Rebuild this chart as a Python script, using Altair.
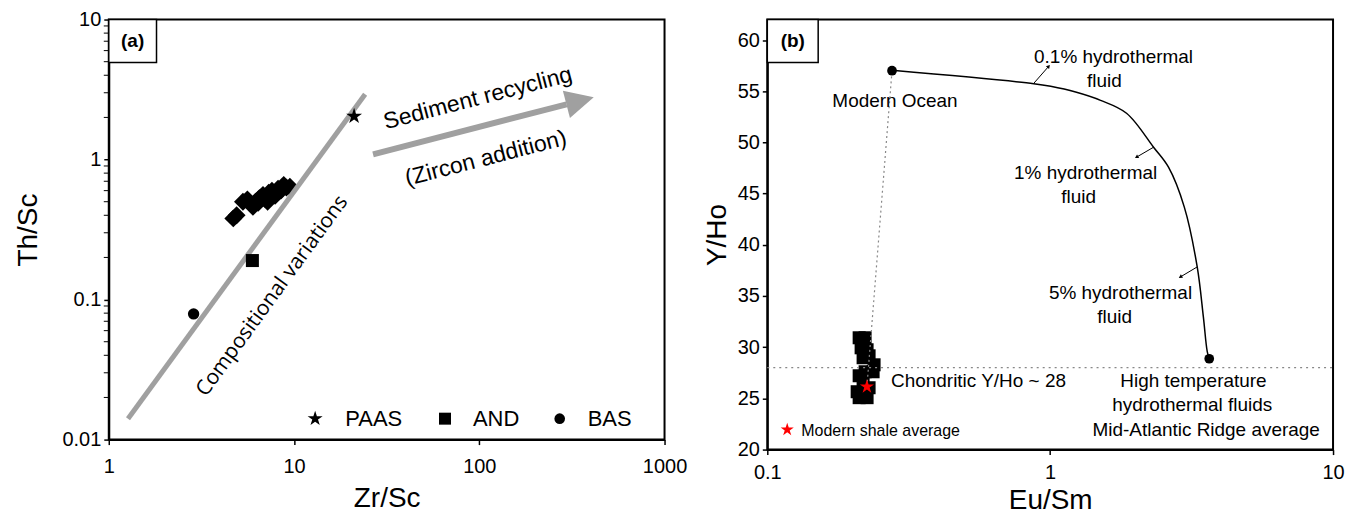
import altair as alt
import pandas as pd

# ---------------- Panel (a) data ----------------
paas_x = [21.1]
paas_y = [2.04]
and_x = [5.96]
and_y = [0.19]
bas_x = [2.87]
bas_y = [0.079]
sample_a_x = [4.7, 4.9, 5.3, 5.6, 5.9, 6.2, 6.5, 6.8, 7.0, 7.3, 7.6, 7.9, 8.2, 8.5, 8.8, 9.1, 9.5, 6.0, 7.2, 6.4]
sample_a_y = [0.38, 0.40, 0.50, 0.52, 0.48, 0.50, 0.53, 0.56, 0.52, 0.58, 0.60, 0.55, 0.62, 0.60, 0.66, 0.63, 0.64, 0.46, 0.50, 0.49]
comp_x = [1.27, 24.2]
comp_y = [0.0141, 2.93]
arrow_x = [26.7, 296]
arrow_y = [1.09, 2.48]
arrowhead_x = [350]
arrowhead_y = [2.63]
y_minor_a = [0.02, 0.03, 0.04, 0.05, 0.06, 0.07, 0.08, 0.09,
             0.2, 0.3, 0.4, 0.5, 0.6, 0.7, 0.8, 0.9,
             2, 3, 4, 5, 6, 7, 8, 9]
y_ticks_a = [0.01, 0.1, 1, 10]
x_ticks_a = [1, 10, 100, 1000]
legend_a_labels = ["PAAS", "AND", "BAS"]
legend_a_sym_x = [13.0, 65.3, 271.7]
legend_a_txt_x = [18.9, 92.4, 384.5]
legend_a_y = 0.01411

# ---------------- Panel (b) data ----------------
sample_b_x = [0.2112, 0.2217, 0.2146, 0.2253, 0.2181, 0.2290, 0.2385, 0.2366, 0.2217, 0.2112,
              0.2181, 0.2290, 0.2078, 0.2217, 0.2112, 0.2253]
sample_b_y = [30.92, 30.92, 29.94, 29.75, 28.97, 29.16, 28.28, 27.60, 27.60, 27.21,
              26.53, 26.04, 25.65, 25.46, 25.07, 25.07]
ocean_x, ocean_y = [0.276], [57.0]
mar_x, mar_y = [3.65], [28.87]
shale_x, shale_y = [0.225], [26.14]
curve_x = [0.276, 0.875, 1.004, 1.23, 1.507, 1.862, 2.32, 2.62, 2.98, 3.31, 3.48, 3.59, 3.65]
curve_y = [57.04, 55.74, 55.48, 54.92, 54.11, 52.85, 49.53, 47.58, 43.68, 37.84, 32.96, 29.6, 28.87]
chondritic = 28
y_ticks_b = [20, 25, 30, 35, 40, 45, 50, 55, 60]
x_ticks_b = [0.1, 1, 10]

FONT = "Liberation Sans"

STAR = ("M0,-1 L0.2245,-0.309 L0.951,-0.309 L0.363,0.118 L0.588,0.809 L0,0.382 "
        "L-0.588,0.809 L-0.363,0.118 L-0.951,-0.309 L-0.2245,-0.309 Z")
HEAD = "M-1,-1 L1,0 L-1,1 Z"
legend_a_shapes = [STAR, "square", "circle"]
legend_a_sizes = [250, 144, 113]

W_A, H_A = 557, 421
W_B, H_B = 567, 431


def df(xs, ys, **extra):
    d = {"x": xs, "y": ys}
    d.update(extra)
    return pd.DataFrame(d)


def axis_common(values, title, lp, tp):
    return alt.Axis(values=values, title=title, grid=False, domainColor="black", domainWidth=2,
                    tickColor="black", tickWidth=1.5, tickSize=5, labelColor="black",
                    labelFont=FONT, labelFontSize=20, titleFont=FONT, titleFontSize=28,
                    titleFontWeight="normal", titleColor="black", format="~g",
                    labelFlush=False, labelPadding=lp, titlePadding=tp)


xa = alt.X("x:Q", scale=alt.Scale(type="log", domain=[1, 1000]),
           axis=axis_common(x_ticks_a, "Zr/Sc", 12, 8))
ya = alt.Y("y:Q", scale=alt.Scale(type="log", domain=[0.01, 10]),
           axis=axis_common(y_ticks_a, "Th/Sc", 3, 20))


def base_a(data):
    return alt.Chart(data).encode(x=xa, y=ya)


def box(xe, ye, x0, x1, y0, y1):
    d = pd.DataFrame({"x": [x0], "x2": [x1], "y": [y0], "y2": [y1]})
    return alt.Chart(d).mark_rect(fill="white", stroke="black", strokeWidth=1.5).encode(
        x=xe, x2="x2:Q", y=ye, y2="y2:Q")


def pt(chart, shape, size, color="black", **kw):
    return chart.mark_point(shape=shape, filled=True, size=size, color=color, opacity=1, **kw)


grey = "#a0a0a0"
a_layers = [
    alt.Chart(pd.DataFrame({"y": y_minor_a})).mark_rule(color="black", strokeWidth=1).encode(
        y=ya, x=alt.value(-5), x2=alt.value(0)),
    pt(base_a(df(sample_a_x, sample_a_y)), "diamond", 320),
    base_a(df(comp_x, comp_y)).mark_line(color=grey, strokeWidth=5),
    base_a(df(arrow_x, arrow_y)).mark_line(color=grey, strokeWidth=6),
    pt(base_a(df(arrowhead_x, arrowhead_y)), HEAD, 800, color=grey, angle=345.5),
    pt(base_a(df(and_x, and_y)), "square", 170),
    pt(base_a(df(bas_x, bas_y)), "circle", 130),
    pt(base_a(df(paas_x, paas_y)), STAR, 280),
    base_a(df([98.3], [2.74], t=["Sediment recycling"])).mark_text(
        font=FONT, fontSize=23, angle=345.5, color="black").encode(text="t:N"),
    base_a(df([108.5], [1.02], t=["(Zircon addition)"])).mark_text(
        font=FONT, fontSize=23, angle=345.5, color="black").encode(text="t:N"),
    base_a(df([7.64], [0.106], t=["Compositional variations"])).mark_text(
        font="Open Sans", fontSize=21, angle=306, color="black").encode(text="t:N"),
]
for lab, shp, sz, sx, tx in zip(legend_a_labels, legend_a_shapes, legend_a_sizes,
                                legend_a_sym_x, legend_a_txt_x):
    a_layers.append(pt(base_a(df([sx], [legend_a_y])), shp, sz))
    a_layers.append(base_a(df([tx], [legend_a_y], t=[lab])).mark_text(
        font=FONT, fontSize=22, align="left", baseline="middle", color="black").encode(text="t:N"))

a_layers.append(box(xa, ya, 1.0, 1.81, 4.94, 10.0))
a_layers.append(base_a(df([1.345], [7.0], t=["(a)"])).mark_text(
    font=FONT, fontSize=19, fontWeight="bold", baseline="middle", color="black").encode(text="t:N"))

chart_a = alt.layer(*a_layers).properties(width=W_A, height=H_A)

# ---------------- Panel (b) ----------------
xb = alt.X("x:Q", scale=alt.Scale(type="log", domain=[0.1, 10]),
           axis=axis_common(x_ticks_b, "Eu/Sm", 8, 4))
yb = alt.Y("y:Q", scale=alt.Scale(domain=[20, 62], nice=False, zero=False),
           axis=axis_common(y_ticks_b, "Y/Ho", 3, 6))


def base_b(data):
    return alt.Chart(data).encode(x=xb, y=yb)


def txt_b(x, y, s, size=19, align="center", weight="normal"):
    return base_b(df([x], [y], t=[s])).mark_text(
        font=FONT, fontSize=size, align=align, baseline="middle", color="black",
        fontWeight=weight).encode(text="t:N")


small_arrows = pd.DataFrame({
    "x": [0.875, 0.988, 2.32, 2.02, 3.31, 2.886],
    "y": [55.77, 57.43, 49.53, 48.56, 37.84, 36.86],
    "g": ["a", "a", "b", "b", "c", "c"],
})

b_layers = [
    pt(base_b(df(sample_b_x, sample_b_y)), "square", 170),
    base_b(df([0.1, 10], [chondritic, chondritic])).mark_line(
        color="#888888", strokeDash=[2, 4], strokeWidth=1.3),
    base_b(df(ocean_x + shale_x, ocean_y + shale_y)).mark_line(
        color="#888888", strokeDash=[2, 3], strokeWidth=1.2),
    base_b(df(curve_x, curve_y)).mark_line(color="black", strokeWidth=1.5, interpolate="catmull-rom"),
    base_b(small_arrows).mark_line(color="black", strokeWidth=1).encode(detail="g:N"),
    pt(base_b(df([0.988], [57.43])), "triangle-up", 18, angle=41),
    pt(base_b(df([2.02, 2.886], [48.56, 36.86])), "triangle-up", 18, angle=239.5),
    pt(base_b(df(ocean_x + mar_x, ocean_y + mar_y)), "circle", 95),
    pt(base_b(df(shale_x, shale_y)), STAR, 220, color="red"),
    txt_b(1.675, 58.3, "0.1% hydrothermal"),
    txt_b(1.556, 55.96, "fluid"),
    txt_b(0.2828, 54.0, "Modern Ocean"),
    txt_b(1.334, 47.0, "1% hydrothermal"),
    txt_b(1.26, 44.66, "fluid"),
    txt_b(1.773, 35.3, "5% hydrothermal"),
    txt_b(1.689, 32.96, "fluid"),
    txt_b(0.2738, 26.73, "Chondritic Y/Ho ~ 28", align="left"),
    txt_b(3.21, 26.73, "High temperature"),
    txt_b(3.18, 24.39, "hydrothermal fluids"),
    txt_b(3.56, 21.95, "Mid-Atlantic Ridge average"),
    pt(base_b(df([0.1176], [21.95])), STAR, 190, color="red"),
    txt_b(0.1318, 21.8, "Modern shale average", size=16, align="left"),
    box(xb, yb, 0.1, 0.1513, 57.8, 62.0),
    txt_b(0.123, 59.9, "(b)", size=19, weight="bold"),
]

chart_b = alt.layer(*b_layers).properties(width=W_B, height=H_B)

chart = alt.hconcat(chart_a, chart_b, spacing=103, bounds="flush").properties(
    padding={"left": 5, "top": 0, "right": 5, "bottom": 0}
).configure_view(stroke="black", strokeWidth=2)

chart.save("out.html", embed_options={"renderer": "svg", "actions": False})
